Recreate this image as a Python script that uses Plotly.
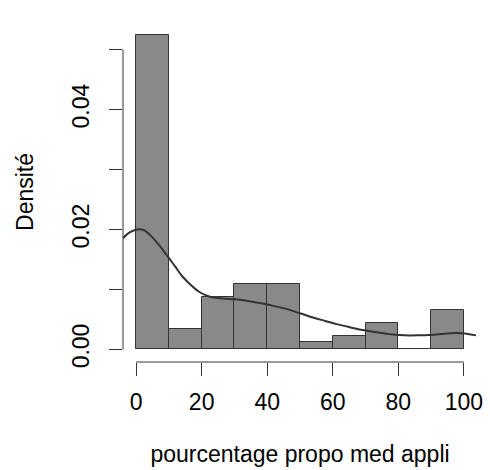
import plotly.graph_objects as go

# Histogram bins (percent) and densities
bin_left = [0, 10, 20, 30, 40, 50, 60, 70, 80, 90]
bin_width = 10
densities = [0.0525, 0.00334, 0.00868, 0.01085, 0.01085, 0.00117, 0.00227, 0.00434, 0.0, 0.0065]

# Kernel density curve
curve_x = [-4.0, -2.0, 0.7, 2.5, 4.2, 7.0, 9.7, 12.0, 14.2, 16.7, 19.2, 21.2, 23.2, 26.7, 30.2,
           33.7, 37.2, 41.2, 45.2, 49.7, 54.2, 57.7, 61.2, 65.2, 69.2, 73.2, 77.2, 80.2, 83.2,
           86.2, 89.2, 93.2, 97.2, 100.2, 103.7]
curve_y = [0.01853, 0.01950, 0.02003, 0.01985, 0.01910, 0.01740, 0.01546, 0.01375, 0.01212,
           0.01075, 0.00962, 0.00905, 0.00868, 0.00848, 0.00835, 0.00810, 0.00778, 0.00735,
           0.00684, 0.00608, 0.00528, 0.00475, 0.00422, 0.00370, 0.00322, 0.00285, 0.00255,
           0.00242, 0.00234, 0.00235, 0.00239, 0.00258, 0.00272, 0.00267, 0.00234]

x_ticks = [0, 20, 40, 60, 80, 100]
y_ticks = [0.00, 0.01, 0.02, 0.03, 0.04, 0.05]
y_ticktext = ["0.00", "", "0.02", "", "0.04", ""]

x_title = "pourcentage propo med appli"
y_title = "Densité"

font_family = "Liberation Sans, Arial, sans-serif"
axis_color = "#333333"

fig = go.Figure()
fig.add_trace(go.Bar(
    x=[b + bin_width / 2 for b in bin_left],
    y=densities,
    width=bin_width,
    marker=dict(color="rgb(137,137,137)", line=dict(color="#333333", width=1)),
    showlegend=False,
    hoverinfo="skip",
))
fig.add_trace(go.Scatter(
    x=curve_x, y=curve_y, mode="lines",
    line=dict(color="#333333", width=2, shape="spline"),
    showlegend=False,
))

# R-style detached axis lines spanning tick range
fig.add_shape(type="line", xref="x", yref="paper", x0=min(x_ticks), x1=max(x_ticks), y0=0, y1=0,
              line=dict(color=axis_color, width=1))
fig.add_shape(type="line", xref="paper", yref="y", x0=0, x1=0, y0=min(y_ticks), y1=max(y_ticks),
              line=dict(color=axis_color, width=1))

fig.update_layout(
    width=490, height=470,
    margin=dict(l=123, r=7, t=22, b=108),
    plot_bgcolor="white", paper_bgcolor="white",
    font=dict(family=font_family, size=23, color="black"),
    bargap=0,
    xaxis=dict(
        range=[-4, 104], tickvals=x_ticks, ticktext=[str(v) for v in x_ticks],
        ticks="outside", ticklen=13, tickcolor=axis_color, tickwidth=1,
        showgrid=False, zeroline=False, showline=False,
        ticklabelstandoff=6,
        title=dict(text=x_title, standoff=32, font=dict(size=23)),
        fixedrange=True,
    ),
    yaxis=dict(
        range=[-0.0021, 0.0546], tickvals=y_ticks, ticktext=y_ticktext,
        ticks="outside", ticklen=13, tickcolor=axis_color, tickwidth=1,
        tickangle=-90,
        showgrid=False, zeroline=False, showline=False,
        ticklabelstandoff=11,
        title=dict(text=y_title, standoff=27, font=dict(size=23)),
        fixedrange=True,
    ),
)

fig.write_html("out.html")
